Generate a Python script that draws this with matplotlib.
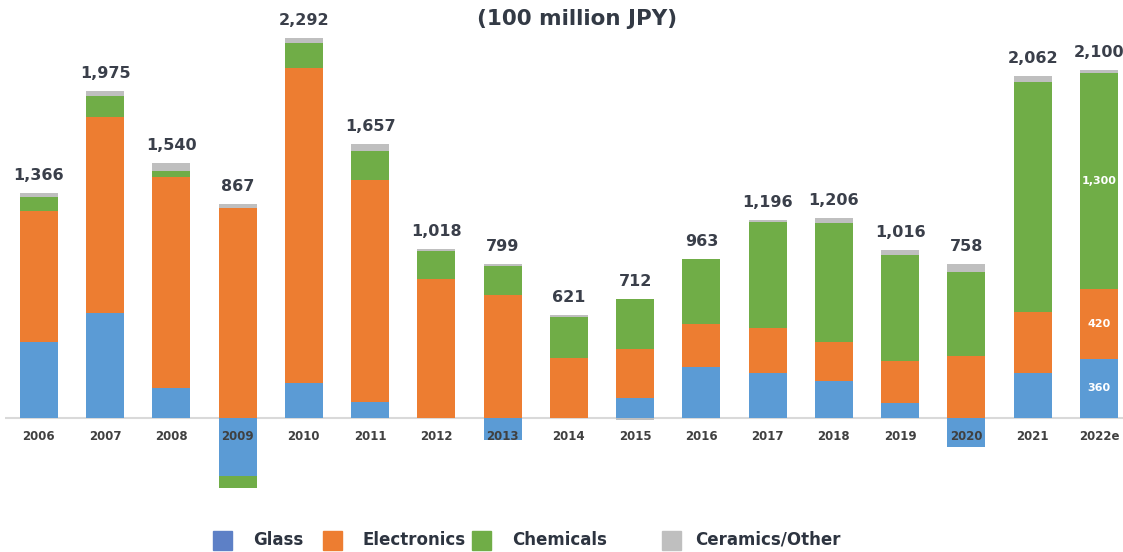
"""Stacked operating income by segment, 2006-2022e."""

import matplotlib.pyplot as plt
import numpy as np
from matplotlib.patches import Rectangle

years = ["2006", "2007", "2008", "2009", "2010", "2011", "2012", "2013", "2014",
         "2015", "2016", "2017", "2018", "2019", "2020", "2021", "2022e"]
glass = [460, 637, 185, -350, 211, 96, 0, -132, 0, 125, 311, 271, 223, 90, -172, 275, 360]
electronics = [790, 1182, 1269, 1270, 1900, 1340, 841, 744, 364, 293, 255, 273, 239, 257, 378, 368, 420]
chemicals = [84, 127, 40, -73, 151, 177, 167, 177, 245, 303, 397, 642, 716, 635, 507, 1383, 1300]
ceramics = [26, 30, 48, 20, 30, 44, 10, 10, 12, -10, 0, 10, 28, 34, 45, 36, 20]
totals = [1366, 1975, 1540, 867, 2292, 1657, 1018, 799, 621,
          712, 963, 1196, 1206, 1016, 758, 2062, 2100]

# values written inside the forecast bar
inside_labels = {"Glass": "360", "Electronics": "420", "Chemicals": "1,300"}

series = [
    ("Glass", glass, "#5b9bd5"),
    ("Electronics", electronics, "#ed7d31"),
    ("Chemicals", chemicals, "#70ad47"),
    ("Ceramics/Other", ceramics, "#bfbfbf"),
]
legend_colors = ["#5d80c6", "#ed7d31", "#70ad47", "#bfbfbf"]

plt.rcParams.update({"font.family": ["DejaVu Sans"]})

W, H = 1123, 552
fig = plt.figure(figsize=(W / 100, H / 100), dpi=100)

# axes placed in pixels: zero line at y=418, ~6.03 units per pixel
px_per_unit = 1 / 6.03
top_px, bot_px, zero_px = 30, 500, 418.3
ax = fig.add_axes([5 / W, 1 - bot_px / H, 1118 / W, (bot_px - top_px) / H])
x0_px, step_px = 38.8, 66.26
ax.set_xlim((5 - x0_px) / step_px, (1123 - x0_px) / step_px)
ax.set_ylim(-(bot_px - zero_px) / px_per_unit, (zero_px - top_px) / px_per_unit)
ax.axis("off")

x = np.arange(len(years))
pos_bottom = np.zeros(len(years))
neg_bottom = np.zeros(len(years))
for name, vals, color in series:
    vals = np.array(vals, dtype=float)
    bottom = np.where(vals >= 0, pos_bottom, neg_bottom)
    ax.bar(x, vals, width=0.573, bottom=bottom, color=color, zorder=2)
    if name in inside_labels:
        i = len(years) - 1
        ax.text(x[i], bottom[i] + vals[i] / 2, inside_labels[name], ha="center",
                va="center", color="white", fontsize=8, fontweight="bold", zorder=4)
    pos_bottom += np.where(vals > 0, vals, 0)
    neg_bottom += np.where(vals < 0, vals, 0)

ax.axhline(0, color="#d9d9d9", lw=1.5, zorder=1)

gap = 13 / px_per_unit
for i, t in enumerate(totals):
    ax.text(x[i], pos_bottom[i] + gap, f"{t:,}", ha="center", va="baseline",
            fontsize=11.5, fontweight="bold", color="#3a3f4a", zorder=4)

for i, yr in enumerate(years):
    ax.text(x[i], -(436 - zero_px) / px_per_unit, yr, ha="center", va="center",
            fontsize=8.5, fontweight="bold", color="#404040", zorder=5)

fig.text(577 / W, 1 - 19 / H, "(100 million JPY)", ha="center", va="center",
         fontsize=15.5, fontweight="bold", color="#333a45")

# legend drawn by hand so the item spacing follows the reference
legend_sq = [213, 323, 472, 662]
legend_txt = [253, 363, 512, 695]
for (name, _, _), c, sq, tx in zip(series, legend_colors, legend_sq, legend_txt):
    fig.patches.append(Rectangle((sq / W, 1 - 549.5 / H), 19 / W, 19 / H,
                                 transform=fig.transFigure, color=c))
    fig.text(tx / W, 1 - 540 / H, name, ha="left", va="center", fontsize=12,
             fontweight="bold", color="#2d3440")

fig.savefig("out.png", dpi=100)
